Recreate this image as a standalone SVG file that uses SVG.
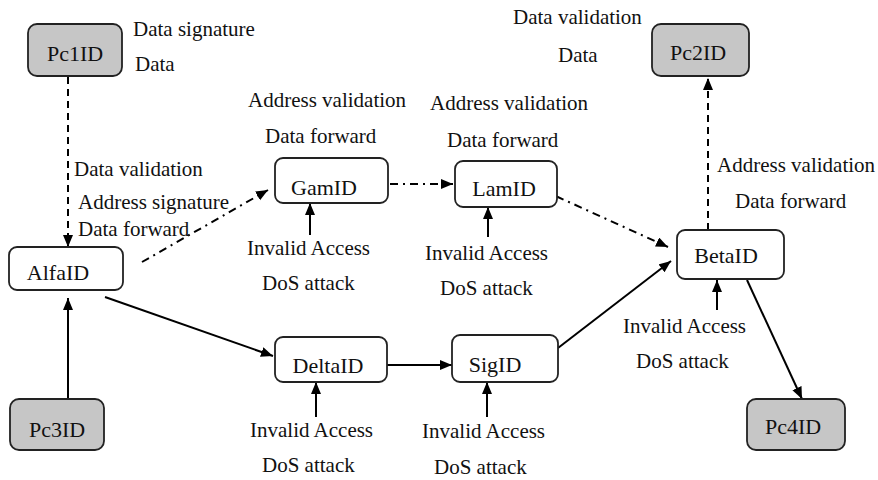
<svg xmlns="http://www.w3.org/2000/svg" width="878" height="480" viewBox="0 0 878 480">
  <defs>
    <marker id="arrow" markerUnits="userSpaceOnUse" markerWidth="13" markerHeight="11" refX="12" refY="5" orient="auto">
      <path d="M0,0 L12,5 L0,10 z" fill="#000"/>
    </marker>
    <style>
      .box { fill: #fff; stroke: #222; stroke-width: 1.8; }
      .pc { fill: #c6c6c6; stroke: #222; stroke-width: 1.8; }
      .name { font-family: "Liberation Serif", "Times New Roman", serif; font-size: 22px; fill: #111; text-anchor: middle; }
      .lbl { font-family: "Liberation Serif", "Times New Roman", serif; font-size: 21px; fill: #111; }
      .solid { stroke: #000; stroke-width: 2; fill: none; marker-end: url(#arrow); }
      .dash { stroke: #000; stroke-width: 2; fill: none; stroke-dasharray: 7 5; marker-end: url(#arrow); }
      .dashdot { stroke: #000; stroke-width: 2; fill: none; stroke-dasharray: 8 5 2 5; marker-end: url(#arrow); }
    </style>
  </defs>
  <rect width="878" height="480" fill="#fff"/>

  <!-- connectors -->
  <g id="connectors">
    <line class="dash" x1="68" y1="77" x2="68" y2="247"/>
    <line class="dashdot" x1="142" y1="262" x2="268" y2="190"/>
    <line class="dashdot" x1="390" y1="184" x2="453" y2="184"/>
    <line class="dashdot" x1="538" y1="188" x2="668" y2="247"/>
    <line class="dash" x1="708" y1="230" x2="708" y2="78"/>
    <line class="solid" x1="68" y1="399" x2="68" y2="298"/>
    <line class="solid" x1="105" y1="297" x2="273" y2="356"/>
    <line class="solid" x1="387" y1="365" x2="452" y2="365"/>
    <line class="solid" x1="558" y1="348" x2="671" y2="261"/>
    <line class="solid" x1="747" y1="280" x2="802" y2="399"/>
    <line class="solid" x1="310" y1="235" x2="310" y2="203"/>
    <line class="solid" x1="488" y1="237" x2="488" y2="207"/>
    <line class="solid" x1="316" y1="417" x2="316" y2="382"/>
    <line class="solid" x1="487" y1="417" x2="487" y2="382"/>
    <line class="solid" x1="717" y1="310" x2="717" y2="280"/>
  </g>

  <!-- nodes -->
  <g id="Pc1ID">
    <rect class="pc" x="28" y="24" width="94" height="52" rx="9"/>
    <text class="name" x="75" y="61">Pc1ID</text>
  </g>
  <g id="Pc2ID">
    <rect class="pc" x="652" y="24" width="97" height="52" rx="9"/>
    <text class="name" x="698" y="60">Pc2ID</text>
  </g>
  <g id="Pc3ID">
    <rect class="pc" x="10" y="399" width="94" height="51" rx="9"/>
    <text class="name" x="57" y="437">Pc3ID</text>
  </g>
  <g id="Pc4ID">
    <rect class="pc" x="747" y="399" width="98" height="51" rx="9"/>
    <text class="name" x="793" y="434">Pc4ID</text>
  </g>
  <g id="AlfaID">
    <rect class="box" x="9" y="247" width="114" height="43" rx="8"/>
    <text class="name" x="58" y="280">AlfaID</text>
  </g>
  <g id="GamID">
    <rect class="box" x="275" y="158" width="113" height="45" rx="8"/>
    <text class="name" x="324" y="195">GamID</text>
  </g>
  <g id="LamID">
    <rect class="box" x="455" y="161" width="102" height="46" rx="8"/>
    <text class="name" x="504" y="196">LamID</text>
  </g>
  <g id="DeltaID">
    <rect class="box" x="275" y="337" width="112" height="45" rx="8"/>
    <text class="name" x="328" y="373">DeltaID</text>
  </g>
  <g id="SigID">
    <rect class="box" x="452" y="335" width="106" height="47" rx="8"/>
    <text class="name" x="495" y="372">SigID</text>
  </g>
  <g id="BetaID">
    <rect class="box" x="677" y="230" width="107" height="49" rx="8"/>
    <text class="name" x="726" y="263">BetaID</text>
  </g>

  <!-- labels -->
  <g id="labels">
    <text class="lbl" x="133" y="36">Data signature</text>
    <text class="lbl" x="135" y="71">Data</text>
    <text class="lbl" x="74" y="176">Data validation</text>
    <text class="lbl" x="78" y="209">Address signature</text>
    <text class="lbl" x="78" y="236">Data forward</text>
    <text class="lbl" x="248" y="107">Address validation</text>
    <text class="lbl" x="265" y="143">Data forward</text>
    <text class="lbl" x="430" y="110">Address validation</text>
    <text class="lbl" x="447" y="147">Data forward</text>
    <text class="lbl" x="247" y="255">Invalid Access</text>
    <text class="lbl" x="262" y="290">DoS attack</text>
    <text class="lbl" x="425" y="260">Invalid Access</text>
    <text class="lbl" x="440" y="295">DoS attack</text>
    <text class="lbl" x="250" y="437">Invalid Access</text>
    <text class="lbl" x="262" y="472">DoS attack</text>
    <text class="lbl" x="422" y="438">Invalid Access</text>
    <text class="lbl" x="434" y="474">DoS attack</text>
    <text class="lbl" x="513" y="24">Data validation</text>
    <text class="lbl" x="558" y="62">Data</text>
    <text class="lbl" x="717" y="172">Address validation</text>
    <text class="lbl" x="735" y="208">Data forward</text>
    <text class="lbl" x="623" y="333">Invalid Access</text>
    <text class="lbl" x="636" y="368">DoS attack</text>
  </g>
</svg>
